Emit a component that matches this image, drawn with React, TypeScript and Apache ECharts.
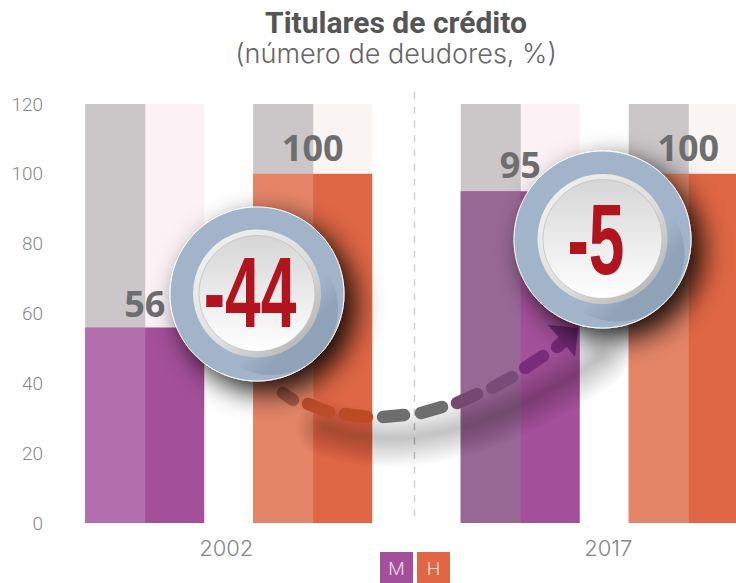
import React, { useEffect, useRef } from "react";
import * as echarts from "echarts";

const years = ["2002", "2017"];
const valuesM = [56, 95];
const valuesH = [100, 100];
const yMax = 120;
const labelGapM = [6, 9];
const labelGapH = [8, 8];
const changes = ["-44", "-5"];

const PURPLE = "#a34f9a";
const ORANGE = "#e06745";
const LEFT_M = ["#b26fad", "#986895"];
const LEFT_H = ["#e58568", "#e58568"];
const BAR_W = 119;
const BAR_STEP = 168;
const TOTAL = BAR_W * 2 + (BAR_STEP - BAR_W);

function halves(data: number[], leftColors: string[], gaps: number[], seriesOffset: number, name: string) {
  return {
    type: "custom",
    name,
    z: 3,
    clip: false,
    data: data.map((v, i) => [i, v]),
    renderItem: (params: any, api: any) => {
      const i = api.value(0);
      const v = api.value(1);
      const top = api.coord([i, yMax]);
      const mid = api.coord([i, v]);
      const base = api.coord([i, 0]);
      const x = base[0] - TOTAL / 2 + seriesOffset;
      return {
        type: "group",
        children: [
          { type: "rect", shape: { x, y: top[1], width: 60, height: mid[1] - top[1] }, style: { fill: "#cbc6c8" } },
          { type: "rect", shape: { x, y: mid[1], width: 60, height: base[1] - mid[1] }, style: { fill: leftColors[params.dataIndex] } },
          {
            type: "text",
            z2: 5,
            style: {
              text: String(v),
              x: x + BAR_W / 2,
              y: mid[1] - gaps[params.dataIndex],
              fill: "#6e6e6e",
              fontFamily: "Open Sans",
              fontWeight: 700,
              fontSize: 36,
              align: "center",
              verticalAlign: "bottom",
            },
          },
        ],
      };
    },
  };
}

function bars(data: number[], color: string, bg: string, name: string) {
  return {
    type: "bar",
    name,
    data,
    barWidth: BAR_W,
    barGap: `${((BAR_STEP - BAR_W) / BAR_W) * 100}%`,
    z: 2,
    showBackground: true,
    backgroundStyle: { color: bg },
    itemStyle: { color },
  };
}

const dashes: [number, number, number, number, string][] = [
  [283, 393, 293, 400, "#a85a46"],
  [308, 404, 329, 412, "#bd4d2a"],
  [345, 414, 367, 417, "#bd4a22"],
  [383, 417, 404, 415, "#6e6e6e"],
  [421, 413, 442, 407, "#6e6e6e"],
  [457, 403, 477, 394, "#74486f"],
  [492, 388, 512, 377, "#784b78"],
  [525, 368, 543, 356, "#7a2b7c"],
  [557, 347, 567, 338, "#6f2a74"],
];

const glowPath = [
  [325, 428],
  [372, 438],
  [414, 437],
  [470, 425],
  [520, 405],
  [580, 372],
  [600, 358],
];

function badge(cx: number, cy: number, r: number, btn: number, face: number, text: string, textX: number, textY: number, sx: number) {
  return [
    {
      type: "circle",
      z: 60,
      shape: { cx, cy, r },
      style: {
        fill: "#a2b4c9",
        stroke: "#ffffff",
        lineWidth: 1,
        shadowColor: "rgba(0,0,0,0.9)",
        shadowBlur: 28,
        shadowOffsetX: 11,
        shadowOffsetY: 11,
      },
    },
    {
      type: "circle",
      z: 61,
      shape: { cx: cx + 14, cy: cy + 14, r: btn + 3 },
      style: {
        fill: new echarts.graphic.LinearGradient(0, 0, 1, 1, [
          { offset: 0.58, color: "rgba(70,90,115,0)" },
          { offset: 0.72, color: "rgba(70,90,115,0.2)" },
          { offset: 1, color: "rgba(70,90,115,0.2)" },
        ]),
      },
    },
    {
      type: "circle",
      z: 62,
      shape: { cx, cy: cy - 0.5, r: btn },
      style: {
        fill: new echarts.graphic.LinearGradient(0, 0, 1, 1, [
          { offset: 0, color: "#f4f4f4" },
          { offset: 0.55, color: "#dedede" },
          { offset: 1, color: "#a9a9a9" },
        ]),
      },
    },
    {
      type: "circle",
      z: 63,
      shape: { cx, cy: cy - 0.5, r: face },
      style: {
        fill: new echarts.graphic.LinearGradient(0, 0, 0, 1, [
          { offset: 0, color: "#d6d6d6" },
          { offset: 1, color: "#ffffff" },
        ]),
        stroke: "#bdbdbd",
        lineWidth: 0.7,
      },
    },
    {
      type: "text",
      z: 64,
      x: textX,
      y: textY,
      scaleX: sx,
      style: {
        text,
        fill: "#b2141f",
        fontFamily: "Liberation Sans",
        fontWeight: 700,
        fontSize: 100,
        align: "center",
        verticalAlign: "middle",
      },
    },
  ];
}

function buildGraphic() {
  const glowWidths: number[] = [];
  for (let w = 58; w >= 4; w -= 3) glowWidths.push(w);
  const glow = glowWidths.map((w) => ({
    type: "polyline",
    z: 50,
    shape: { points: glowPath, smooth: 0.4 },
    style: { fill: "none", stroke: "rgba(0,0,0,0.011)", lineWidth: w, lineCap: "round", lineJoin: "round" },
  }));
  const arrow = dashes.map(([x1, y1, x2, y2, c]) => ({
    type: "line",
    z: 55,
    shape: { x1, y1, x2, y2 },
    style: { stroke: c, lineWidth: 12.5, lineCap: "round" },
  }));
  return [
    {
      type: "line",
      z: 1,
      shape: { x1: 414.5, y1: 92, x2: 414.5, y2: 523 },
      style: { stroke: "#cfcfcf", lineWidth: 1.5, lineDash: [7, 7.4] },
    },
    ...glow,
    ...arrow,
    {
      type: "polygon",
      z: 55,
      shape: { points: [[548, 325], [578, 328], [575, 357], [563, 342]] },
      style: { fill: "#6a2772" },
    },
    ...badge(257, 294, 87, 64, 58, changes[0], 250, 292, 0.64),
    ...badge(602.5, 239.5, 88.5, 65, 59.5, changes[1], 596, 239, 0.64),
    { type: "rect", z: 10, shape: { x: 380, y: 552, width: 33, height: 31 }, style: { fill: PURPLE } },
    { type: "rect", z: 10, shape: { x: 417, y: 552, width: 33, height: 31 }, style: { fill: ORANGE } },
    {
      type: "text",
      z: 11,
      x: 396.5,
      y: 568,
      style: { text: "M", fill: "#f6e8f3", fontFamily: "Roboto", fontWeight: 300, fontSize: 19, align: "center", verticalAlign: "middle" },
    },
    {
      type: "text",
      z: 11,
      x: 433.5,
      y: 568,
      style: { text: "H", fill: "#fbe6df", fontFamily: "Roboto", fontWeight: 300, fontSize: 19, align: "center", verticalAlign: "middle" },
    },
  ];
}

export default function App() {
  const ref = useRef<HTMLDivElement>(null);
  useEffect(() => {
    document.body.style.margin = "0";
    const chart = echarts.init(ref.current!, undefined, { renderer: "svg" });
    chart.setOption({
      animation: false,
      backgroundColor: "#ffffff",
      title: [
        {
          text: "Titulares de crédito",
          left: 391,
          top: 2,
          textAlign: "center",
          textStyle: { fontFamily: "Roboto", fontWeight: 700, fontSize: 30, lineHeight: 30, color: "#555555" },
        },
        {
          text: "(número de deudores, %)",
          left: 391,
          top: 34,
          textAlign: "center",
          textStyle: { fontFamily: "Inter", fontWeight: 300, fontSize: 27, lineHeight: 28, color: "#666666" },
        },
      ],
      grid: { left: 41, top: 104, width: 751, height: 419, containLabel: false, outerBoundsMode: "none" },
      xAxis: {
        type: "category",
        data: [
          { value: years[0], textStyle: { padding: [0, 5, 0, 0] } },
          { value: years[1], textStyle: { padding: [0, 0, 0, 8] } },
        ],
        axisLine: { show: false },
        axisTick: { show: false },
        axisLabel: { color: "#868686", fontFamily: "Inter", fontWeight: 300, fontSize: 22, margin: 14 },
      },
      yAxis: {
        type: "value",
        min: 0,
        max: yMax,
        interval: 20,
        axisLine: { show: false },
        axisTick: { show: false },
        splitLine: { show: false },
        axisLabel: { color: "#888888", fontFamily: "Roboto", fontWeight: 300, fontSize: 19, margin: -2 },
      },
      series: [
        bars(valuesM, PURPLE, "#fcf2f6", "M"),
        bars(valuesH, ORANGE, "#faf5f2", "H"),
        halves(valuesM, LEFT_M, labelGapM, 0, "M izquierda"),
        halves(valuesH, LEFT_H, labelGapH, BAR_STEP, "H izquierda"),
      ],
      graphic: { elements: buildGraphic() },
    });
    return () => chart.dispose();
  }, []);
  return <div ref={ref} style={{ width: 736, height: 583 }} />;
}
